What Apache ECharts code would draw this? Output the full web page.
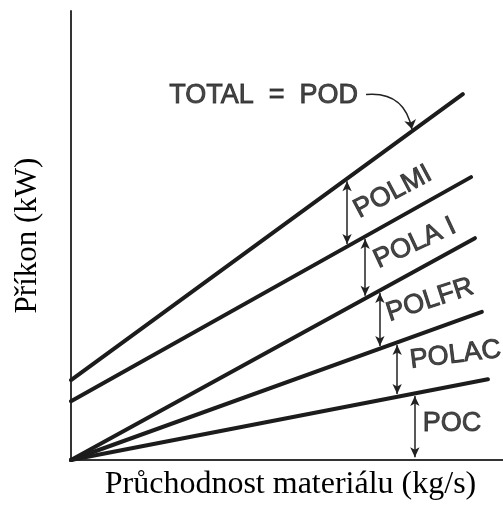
<!DOCTYPE html>
<html>
<head>
<meta charset="utf-8">
<script src="https://cdn.jsdelivr.net/npm/echarts@6/dist/echarts.min.js"></script>
<style>
  html, body { margin: 0; padding: 0; background: #fff; }
  #chart { width: 503px; height: 510px; }
</style>
</head>
<body>
<div id="chart"></div>
<script>
// lines of the diagram: [start, end] points in arbitrary units
const lineNames = ['POD', 'L2', 'L3', 'L4', 'L5'];
const lineStart = [[0, 17.8], [0, 13.1], [0, 0], [0, 0], [0, 0]];
const lineEnd = [[90.7, 81.5], [92.6, 63.0], [93.5, 49.4], [95.1, 33.0], [96.5, 18.0]];

// double arrows: x where they sit, upper line index, lower line index (-1 = axis)
const bandNames = ['POLMI', 'POLA I', 'POLFR', 'POLAC', 'POC'];
const bandX = [63.9, 68.1, 71.5, 75.5, 79.6];
const bandTop = [0, 1, 2, 3, 4];
const bandBottom = [1, 2, 3, 4, -1];

const chart = echarts.init(document.getElementById('chart'));

function yAt(i, x) {
    if (i < 0) return 0;
    const a = lineStart[i], b = lineEnd[i];
    return a[1] + (b[1] - a[1]) * (x - a[0]) / (b[0] - a[0]);
}

// label placement for each band (data coords + rotation)
const labelPos = [[74.5, 59.7, 28], [79.6, 48.3, 25], [83.1, 35.6, 18], [89.0, 23.4, 7], [88.2, 8.2, 0]];

const labelFont = {
    color: '#1a1a1a',
    fontFamily: 'Liberation Sans',
    fontSize: 27,
    textBorderColor: '#1a1a1a',
    textBorderWidth: 0.9
};

const series = lineNames.map(function(n, i) {
    return {
        name: n,
        type: 'line',
        data: [lineStart[i], lineEnd[i]],
        symbol: 'none',
        silent: true,
        lineStyle: { color: '#1c1c1c', width: 4, cap: 'round' }
    };
});

series.push({
    type: 'line',
    data: [],
    silent: true,
    markLine: {
        silent: true,
        symbol: ['arrow', 'arrow'],
        symbolSize: [7, 10],
        label: { show: false },
        lineStyle: { color: '#222', width: 1.5, type: 'solid' },
        data: bandX.map(function(x, k) {
            return [{ coord: [x, yAt(bandTop[k], x) - 0.6] }, { coord: [x, yAt(bandBottom[k], x) + 0.6] }];
        })
    }
});

series.push({
    type: 'scatter',
    symbolSize: 0,
    silent: true,
    data: bandNames.map(function(n, k) {
        return {
            value: [labelPos[k][0], labelPos[k][1]],
            label: { rotate: labelPos[k][2] }
        };
    }),
    label: Object.assign({
        show: true,
        position: 'inside',
        formatter: function(p) { return bandNames[p.dataIndex]; }
    }, labelFont)
});

series.push({
    type: 'scatter',
    symbolSize: 0,
    silent: true,
    data: [[44.6, 81.1]],
    label: Object.assign({
        show: true,
        position: 'inside',
        formatter: 'TOTAL  =  POD'
    }, labelFont)
});

series.push({
    type: 'lines',
    coordinateSystem: 'cartesian2d',
    silent: true,
    symbol: ['none', 'arrow'],
    symbolSize: 9,
    lineStyle: { color: '#222', width: 1.5, curveness: 0.45, opacity: 1 },
    data: [{ coords: [[68.3, 81.4], [78.9, yAt(0, 78.9) + 0.5]] }]
});

const option = {
    animation: false,
    grid: { left: 71, right: 0, top: 11, bottom: 50 },
    xAxis: {
        type: 'value',
        min: 0,
        max: 100,
        name: 'Průchodnost materiálu (kg/s)',
        nameLocation: 'middle',
        nameGap: 9,
        nameTextStyle: { fontFamily: 'Liberation Serif', fontSize: 32, color: '#000', padding: [0, 0, 0, 7] },
        axisLine: { lineStyle: { color: '#333', width: 2 } },
        axisTick: { show: false },
        axisLabel: { show: false },
        splitLine: { show: false }
    },
    yAxis: {
        type: 'value',
        min: 0,
        max: 100,
        name: 'Příkon (kW)',
        nameLocation: 'middle',
        nameGap: 28,
        nameTextStyle: { fontFamily: 'Liberation Serif', fontSize: 31, color: '#000' },
        axisLine: { show: true, lineStyle: { color: '#333', width: 2 } },
        axisTick: { show: false },
        axisLabel: { show: false },
        splitLine: { show: false }
    },
    series: series
};

chart.setOption(option);
</script>
</body>
</html>
